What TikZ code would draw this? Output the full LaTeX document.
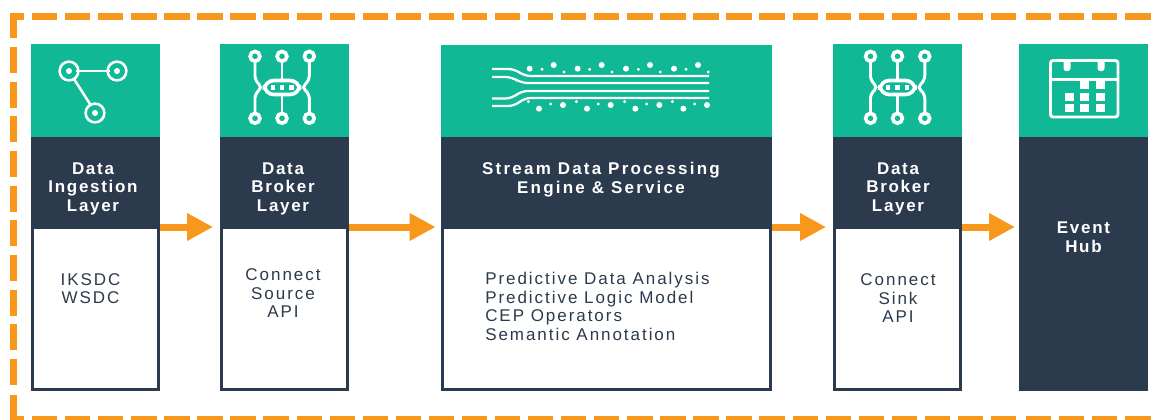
\documentclass[tikz,border=0pt]{standalone}
\usepackage{fontspec}
\setmainfont{Liberation Sans}
\newfontfamily\headfont[LetterSpace=10]{Liberation Sans Bold}
\newfontfamily\headwidefont[LetterSpace=13]{Liberation Sans Bold}
\newfontfamily\bodyfont[LetterSpace=11.5]{Liberation Sans}
\usetikzlibrary{arrows.meta}
\definecolor{teal1}{HTML}{10B895}
\definecolor{navy1}{HTML}{2B3A4C}
\definecolor{orange1}{HTML}{F7981D}
\tikzset{
  x=0.75pt,y=-0.75pt,
  greenbox/.style={fill=teal1,draw=none,anchor=north west,inner sep=0pt,outer sep=0pt},
  darkbox/.style={fill=navy1,draw=none,anchor=north west,inner sep=0pt,outer sep=0pt},
  whitebox/.style={fill=white,draw=navy1,line width=2.4pt,anchor=north west,inner sep=0pt,outer sep=0pt},
  headtext/.style={text=white,font=\headfont\fontsize{12.75pt}{13.9pt}\selectfont,align=center,inner sep=0pt,anchor=center},
  headwide/.style={headtext,font=\headwidefont\fontsize{12.75pt}{13.9pt}\selectfont},
  bodytext/.style={text=navy1,font=\bodyfont\fontsize{12.75pt}{13.9pt}\selectfont,align=center,inner sep=0pt,anchor=center},
  flow/.style={draw=orange1,line width=5.25pt,-{Triangle[length=19.5pt,width=19.5pt]}},
  frame/.style={draw=orange1,line width=5.25pt},
  framedash/.style={frame,dash pattern=on 19pt off 5.8pt},
  framedashv/.style={frame,dash pattern=on 19.5pt off 6.5pt},
  icon/.style={draw=white,line width=1.9pt},
  chipring/.style={draw=white,line width=2.7pt},
  chipwire/.style={draw=white,line width=2.2pt},
  streamline/.style={draw=white,line width=1.7pt,rounded corners=5},
  icondot/.style={fill=white,draw=none},
}
\newcommand{\chipicon}[1]{%
\begin{scope}[shift={(#1,0)}]
  \draw[chipwire] (282,61) -- (282,79);
  \draw[chipwire] (282,96) -- (282,113);
  \draw[chipwire,rounded corners=4] (255,61) -- (255,81) -- (263,87.5) -- (255,93) -- (255,113);
  \draw[chipwire,rounded corners=4] (309.3,61) -- (309.3,81) -- (301,87.5) -- (309.3,93) -- (309.3,113);
  \foreach \cx in {255,282,309.3}{
    \draw[chipring] (\cx,56.3) circle (4.9);
    \draw[chipring] (\cx,118.3) circle (4.9);
  }
  \draw[chipring,fill=teal1,rounded corners=7] (264.5,80.5) rectangle (299.5,94.5);
  \foreach \cx in {272.7,282,291.3}{
    \fill[icondot] (\cx-2.2,85.2) rectangle (\cx+2.2,89.6);
  }
\end{scope}}
\begin{document}
\begin{tikzpicture}
\clip (0,0) rectangle (1158,419);
\fill[white] (0,0) rectangle (1158,419);
% dashed frame
\draw[frame] (24,16) -- (13.7,16) -- (13.7,38);
\draw[frame] (24,419.5) -- (13.7,419.5) -- (13.7,395);
\draw[framedash] (32,16) -- (1020,16);
\draw[framedash] (1026,16) -- (1165,16);
\draw[framedash] (32,419.5) -- (1020,419.5);
\draw[framedash] (1026,419.5) -- (1165,419.5);
\draw[framedashv] (13.7,47) -- (13.7,387);
% column 1
\node[whitebox,minimum width=125.8*0.75pt,minimum height=162.5*0.75pt] (w1) at (32.6,227) {};
\node[greenbox,minimum width=129*0.75pt,minimum height=93*0.75pt] (g1) at (31,44) {};
\node[darkbox,minimum width=129*0.75pt,minimum height=90*0.75pt] (d1) at (31,137) {};
% column 2
\node[whitebox,minimum width=125.8*0.75pt,minimum height=162.5*0.75pt] (w2) at (221.6,227) {};
\node[greenbox,minimum width=129*0.75pt,minimum height=93*0.75pt] (g2) at (220,44) {};
\node[darkbox,minimum width=129*0.75pt,minimum height=90*0.75pt] (d2) at (220,137) {};
% column 3
\node[whitebox,minimum width=327.8*0.75pt,minimum height=162.5*0.75pt] (w3) at (442.6,227) {};
\node[greenbox,minimum width=331*0.75pt,minimum height=92*0.75pt] (g3) at (441,45) {};
\node[darkbox,minimum width=331*0.75pt,minimum height=90*0.75pt] (d3) at (441,137) {};
% column 4
\node[whitebox,minimum width=125.8*0.75pt,minimum height=162.5*0.75pt] (w4) at (834.6,227) {};
\node[greenbox,minimum width=129*0.75pt,minimum height=93*0.75pt] (g4) at (833,44) {};
\node[darkbox,minimum width=129*0.75pt,minimum height=90*0.75pt] (d4) at (833,137) {};
% column 5
\node[greenbox,minimum width=129*0.75pt,minimum height=93*0.75pt] (g5) at (1019,44) {};
\node[darkbox,minimum width=129*0.75pt,minimum height=254*0.75pt] (d5) at (1019,137) {};
% arrows
\draw[flow,shorten >=5.2pt] (d1.south east) -- (d2.south west);
\draw[flow,shorten >=4pt] (d2.south east) -- (d3.south west);
\draw[flow,shorten >=5.2pt] (d3.south east) -- (d4.south west);
\draw[flow,shorten >=3pt] (d4.south east) -- (d5.west |- d4.south);
% headings
\node[headtext] (h1) at (93,188.5) {Data\\Ingestion\\Layer};
\node[headtext] (h2) at (283,188.5) {Data\\Broker\\Layer};
\node[headwide] (h3) at (601,179.5) {Stream Data Processing\\Engine \& Service};
\node[headtext] (h4) at (898,188.5) {Data\\Broker\\Layer};
\node[headtext] (h5) at (1083.5,237) {Event\\Hub};
% bodies
\node[bodytext] (b1) at (90.5,288.5) {IKSDC\\WSDC};
\node[bodytext] (b2) at (283,293.5) {Connect\\Source\\API};
\node[bodytext,align=left,anchor=west] (b3) at (485,306.5) {Predictive Data Analysis\\Predictive Logic Model\\CEP Operators\\Semantic Annotation};
\node[bodytext] (b4) at (898,298.5) {Connect\\Sink\\API};
% graph icon
\draw[icon] (76,71) -- (110,71);
\draw[icon] (74,79) -- (90,104);
\foreach \cx/\cy in {69/71,117/71,95/113}{
  \draw[icon] (\cx,\cy) circle (9.4);
  \fill[icondot] (\cx,\cy) circle (3);
}
% chip icons
\chipicon{0}
\chipicon{615.5}
% stream icon
\draw[streamline] (492,69) -- (515,69) -- (524,76) -- (709,76);
\draw[streamline] (492,77) -- (512,77) -- (521,83) -- (709,83);
\draw[streamline] (492,98.5) -- (512,98.5) -- (521,91) -- (709,91);
\draw[streamline] (492,106) -- (515,106) -- (524,98) -- (709,98);
\foreach \zx/\zy in {299/116,371/105,443/116,515/105,588/116,660/105,732/116,804/105,327/236,399/225,471/236,542/225,616/236,688/225,760/236,831/225}{
  \fill[icondot] ({430+\zx/3},{30+\zy/3}) circle (3);
}
\foreach \zx/\zy in {336/118,402/126,479/118,546/126,625/118,691/126,768/118,835/126,295/215,362/222,439/215,505/222,584/215,650/222,727/215,794/222}{
  \fill[icondot] ({430+\zx/3},{30+\zy/3}) circle (1.6);
}
% calendar icon
\draw[chipwire,rounded corners=2] (1050.5,60.5) rectangle (1118,117);
\draw[chipwire] (1050,79.5) -- (1118,79.5);
\foreach \cx in {1067,1101}{
  \fill[icondot,rounded corners=2] (\cx-3.5,60) rectangle (\cx+3.5,71);
}
\foreach \cx/\cy in {1084/85,1100/85,1069/97,1084/97,1100/97,1069/108,1084/108,1100/108}{
  \fill[icondot] (\cx-4.5,\cy-3.7) rectangle (\cx+4.5,\cy+3.7);
}
\end{tikzpicture}
\end{document}
